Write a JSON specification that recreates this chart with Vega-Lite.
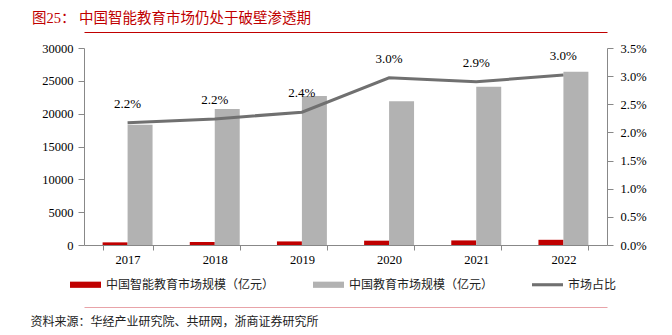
{
  "$schema": "https://vega.github.io/schema/vega-lite/v6.json",
  "width": 523,
  "height": 197,
  "autosize": {"type": "none"},
  "padding": {"left": 84, "top": 48, "right": 65, "bottom": 90},
  "background": "white",
  "config": {"view": {"stroke": null}},
  "title": {
    "text": "图25：  中国智能教育市场仍处于破壁渗透期",
    "anchor": "start",
    "frame": "group",
    "dx": -52,
    "offset": 6,
    "fontSize": 14.5,
    "font": "Liberation Serif, Noto Sans CJK SC",
    "fontWeight": "normal",
    "color": "#C00000"
  },
  "datasets": {
    "bars": [
      {"year": "2017", "series": "中国智能教育市场规模（亿元）", "value": 402},
      {"year": "2017", "series": "中国教育市场规模（亿元）", "value": 18300},
      {"year": "2018", "series": "中国智能教育市场规模（亿元）", "value": 455},
      {"year": "2018", "series": "中国教育市场规模（亿元）", "value": 20700},
      {"year": "2019", "series": "中国智能教育市场规模（亿元）", "value": 545},
      {"year": "2019", "series": "中国教育市场规模（亿元）", "value": 22700},
      {"year": "2020", "series": "中国智能教育市场规模（亿元）", "value": 658},
      {"year": "2020", "series": "中国教育市场规模（亿元）", "value": 21900},
      {"year": "2021", "series": "中国智能教育市场规模（亿元）", "value": 699},
      {"year": "2021", "series": "中国教育市场规模（亿元）", "value": 24100},
      {"year": "2022", "series": "中国智能教育市场规模（亿元）", "value": 792},
      {"year": "2022", "series": "中国教育市场规模（亿元）", "value": 26400}
    ],
    "share": [
      {"year": "2017", "share": 0.0217},
      {"year": "2018", "share": 0.0224},
      {"year": "2019", "share": 0.0236},
      {"year": "2020", "share": 0.0297},
      {"year": "2021", "share": 0.029},
      {"year": "2022", "share": 0.0302}
    ]
  },
  "layer": [
    {
      "data": {"name": "bars"},
      "mark": {"type": "bar"},
      "encoding": {
        "x": {
          "field": "year",
          "type": "nominal",
          "scale": {"paddingInner": 0.427, "paddingOuter": 0.2135},
          "axis": {
            "title": "资料来源：华经产业研究院、共研网，浙商证券研究所",
            "titleX": -54,
            "titleY": 76,
            "titleAlign": "left",
            "titleBaseline": "middle",
            "titleFont": "Noto Sans CJK SC",
            "titleFontSize": 12,
            "titleFontWeight": "normal",
            "titleColor": "#222",
            "labelAngle": 0,
            "labelFont": "Liberation Serif",
            "labelFontSize": 12.5,
            "labelColor": "#000",
            "labelPadding": 3,
            "tickBand": "extent",
            "tickSize": 5,
            "tickColor": "#888",
            "domainColor": "#888"
          }
        },
        "xOffset": {
          "field": "series",
          "type": "nominal",
          "sort": ["中国智能教育市场规模（亿元）", "中国教育市场规模（亿元）"],
          "scale": {"paddingInner": 0}
        },
        "y": {
          "field": "value",
          "type": "quantitative",
          "scale": {"domain": [0, 30000]},
          "axis": {
            "title": null,
            "values": [0, 5000, 10000, 15000, 20000, 25000, 30000],
            "format": "d",
            "grid": false,
            "labelFont": "Liberation Serif",
            "labelFontSize": 12.5,
            "labelColor": "#000",
            "tickSize": 6,
            "labelPadding": 5,
            "tickColor": "#888",
            "domainColor": "#888"
          }
        },
        "color": {
          "field": "series",
          "type": "nominal",
          "scale": {
            "domain": ["中国智能教育市场规模（亿元）", "中国教育市场规模（亿元）", "市场占比"],
            "range": ["#C00000", "#B2B2B2", "#707070"]
          },
          "legend": {
            "orient": "none",
            "legendX": -14,
            "legendY": 221,
            "direction": "horizontal",
            "title": null,
            "columnPadding": 38,
            "labelOffset": 5,
            "labelLimit": 400,
            "symbolSize": 961,
            "labelFont": "Noto Sans CJK SC",
            "labelFontSize": 12,
            "labelColor": "#222",
            "encode": {
              "symbols": {
                "update": {
                  "shape": {"signal": "datum.value === '市场占比' ? 'M-1,-0.1H1V0.1H-1Z' : 'M-1,-0.2H1V0.2H-1Z'"},
                  "fill": {"signal": "scale('color', datum.value)"},
                  "stroke": {"value": "transparent"},
                  "strokeWidth": {"value": 0}
                }
              }
            }
          }
        }
      }
    },
    {
      "data": {"name": "share"},
      "encoding": {
        "y": {
          "field": "share",
          "type": "quantitative",
          "scale": {"domain": [0, 0.035]},
          "axis": {
            "orient": "right",
            "title": null,
            "values": [0, 0.005, 0.01, 0.015, 0.02, 0.025, 0.03, 0.035],
            "format": ".1%",
            "grid": false,
            "labelFont": "Liberation Serif",
            "labelFontSize": 12.5,
            "labelColor": "#000",
            "tickSize": 6,
            "labelPadding": 7,
            "tickColor": "#888",
            "domainColor": "#888"
          }
        }
      },
      "layer": [
        {
          "mark": {"type": "line", "strokeWidth": 3},
          "encoding": {
            "x": {
              "field": "year",
              "type": "nominal",
              "axis": {
                "orient": "top",
                "offset": 16,
                "title": null,
                "labels": false,
                "ticks": false,
                "domainColor": "#C00000",
                "domainWidth": 1
              }
            },
            "color": {"datum": "市场占比"}
          }
        },
        {
          "mark": {"type": "text", "dy": -19, "font": "Liberation Serif", "fontSize": 13, "color": "#000"},
          "encoding": {
            "x": {
              "field": "year",
              "type": "nominal",
              "axis": {
                "orient": "bottom",
                "offset": 62,
                "title": null,
                "labels": false,
                "ticks": false,
                "domainColor": "#E8A3A8",
                "domainWidth": 1
              }
            },
            "text": {"field": "share", "type": "quantitative", "format": ".1%"}
          }
        }
      ],
      "resolve": {"axis": {"x": "independent"}}
    }
  ],
  "resolve": {"scale": {"y": "independent"}, "axis": {"x": "independent"}}
}
